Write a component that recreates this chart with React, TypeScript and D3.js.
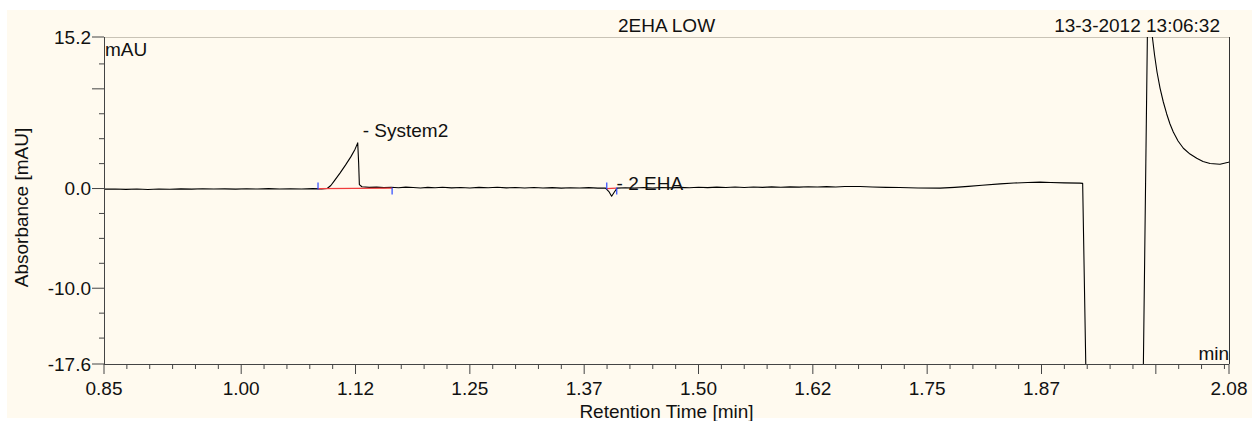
import { useRef, useEffect } from 'react'
import * as d3 from 'd3'

// chromatogram trace: [time (min), absorbance (mAU)]
const TRACE: [number, number][] = [
  [0.850, -0.06], [0.862, -0.04], [0.874, -0.08], [0.886, -0.05], [0.898, -0.09],
  [0.910, -0.04], [0.922, -0.07], [0.934, -0.03], [0.946, -0.06], [0.958, -0.02],
  [0.970, -0.05], [0.982, -0.03], [0.994, -0.06], [1.006, -0.02], [1.018, -0.05],
  [1.030, -0.01], [1.042, -0.05], [1.054, -0.02], [1.066, -0.04], [1.078, -0.01],
  [1.088, -0.03], [1.094, 0.00],
  // System2
  [1.098, 0.30], [1.102, 0.80], [1.108, 1.55], [1.114, 2.35], [1.120, 3.20],
  [1.1245, 3.95], [1.1274, 4.58], [1.1284, 2.60], [1.1292, 0.40], [1.1320, 0.18],
  [1.1400, 0.12], [1.1480, 0.14], [1.1560, 0.09], [1.1640, 0.13], [1.1720, 0.08],
  [1.1800, 0.14], [1.1880, 0.10], [1.1960, 0.06], [1.2040, 0.12], [1.2120, 0.08],
  [1.2200, 0.13], [1.2300, 0.07], [1.2400, 0.11], [1.2500, 0.06], [1.2600, 0.12],
  [1.2700, 0.08], [1.2800, 0.13], [1.2900, 0.07], [1.3000, 0.11], [1.3100, 0.06],
  [1.3200, 0.10], [1.3300, 0.05], [1.3400, 0.09], [1.3500, 0.04], [1.3600, 0.08],
  [1.3700, 0.05], [1.3800, 0.09], [1.3900, 0.04], [1.3980, 0.06],
  // 2 EHA
  [1.4020, -0.30], [1.4050, -0.77], [1.4080, -0.35], [1.4110, 0.04],
  [1.4200, 0.08], [1.4300, 0.05], [1.4400, 0.10], [1.4500, 0.06], [1.4600, 0.11],
  [1.4700, 0.07], [1.4800, 0.12], [1.4900, 0.08], [1.5000, 0.13], [1.5100, 0.09],
  [1.5200, 0.14], [1.5300, 0.10], [1.5400, 0.15], [1.5500, 0.11], [1.5600, 0.16],
  [1.5700, 0.12], [1.5800, 0.17], [1.5900, 0.13], [1.6000, 0.17], [1.6100, 0.14],
  [1.6200, 0.18], [1.6300, 0.15], [1.6400, 0.19], [1.6500, 0.16], [1.6600, 0.20],
  [1.6766, 0.20], [1.6900, 0.16], [1.7050, 0.12], [1.7200, 0.10], [1.7400, 0.06],
  [1.7640, 0.04], [1.7800, 0.12], [1.7950, 0.22], [1.8100, 0.33], [1.8297, 0.47],
  [1.8450, 0.55], [1.8600, 0.60], [1.8734, 0.64], [1.8850, 0.60], [1.9000, 0.57],
  [1.9171, 0.54], [1.9200, 0.52],
  // detector drop / injection spike
  [1.9234, -17.6], [1.9260, -40], [1.9500, -60], [1.9840, -40], [1.9864, -17.6],
  [1.9935, 36], [1.9962, 15.2], [1.9986, 13.39], [2.0013, 11.69], [2.0046, 10.08],
  [2.0082, 8.68], [2.0119, 7.48], [2.0155, 6.47], [2.0191, 5.67], [2.0243, 4.77],
  [2.0301, 4.04], [2.0374, 3.46], [2.0447, 3.03], [2.0516, 2.71], [2.0593, 2.51],
  [2.0702, 2.43], [2.0793, 2.63], [2.0800, 2.66],
]

const PEAK_NAMES = ['System2', '2 EHA']
const PEAK_START = [1.084, 1.3997]
const PEAK_END = [1.165, 1.4106]
const PEAK_APEX_T = [1.1274, 1.405]
const PEAK_APEX_V = [4.58, -0.77]

const X_DOMAIN = [0.85, 2.08]
const Y_DOMAIN = [-17.6, 15.2]
const X_MAJOR = [0.85, 1.0, 1.125, 1.25, 1.375, 1.5, 1.625, 1.75, 1.875, 2.0, 2.08]
const X_LABELS = ['0.85', '1.00', '1.12', '1.25', '1.37', '1.50', '1.62', '1.75', '1.87', '', '2.08']
const Y_MAJOR = [15.2, 10, 0, -10, -17.6]
const Y_LABELS = ['15.2', '', '0.0', '-10.0', '-17.6']
const Y_MINOR = [12.5, 7.5, 5, 2.5, -2.5, -5, -7.5, -12.5, -15]

const TITLE = '2EHA LOW'
const STAMP = '13-3-2012 13:06:32'

export default function App() {
  const svgRef = useRef<SVGSVGElement | null>(null)

  useEffect(() => {
    document.body.style.margin = '0'
    if (!svgRef.current) return
    const svg = d3.select(svgRef.current)
    svg.selectAll('*').remove()

    const W = 1252
    const font = '"Liberation Sans", Arial, sans-serif'
    const fs = '19px'
    const ink = '#111'
    const left = 104, right = 1229, top = 37, bottom = 364

    svg.append('rect').attr('x', 7).attr('y', 10).attr('width', W - 7).attr('height', 408)
      .attr('fill', '#fffaef')

    const x = d3.scaleLinear().domain(X_DOMAIN).range([left, right])
    const y = d3.scaleLinear().domain(Y_DOMAIN).range([bottom, top])

    svg.append('clipPath').attr('id', 'plot-clip')
      .append('rect').attr('x', left).attr('y', top).attr('width', right - left).attr('height', bottom - top)

    // frame
    svg.append('line').attr('x1', left).attr('x2', right).attr('y1', top + 0.5).attr('y2', top + 0.5)
      .attr('stroke', '#c9c3b6').attr('stroke-width', 1)
    svg.append('line').attr('x1', right + 0.5).attr('x2', right + 0.5).attr('y1', top).attr('y2', bottom)
      .attr('stroke', '#333').attr('stroke-width', 1)

    // trace
    const line = d3.line<[number, number]>().x(d => x(d[0])).y(d => y(d[1]))
    svg.append('path').datum(TRACE).attr('d', line).attr('fill', 'none')
      .attr('stroke', '#000').attr('stroke-width', 1.1).attr('stroke-linejoin', 'round')
      .attr('clip-path', 'url(#plot-clip)')

    // peak baselines, delimiters and labels
    PEAK_NAMES.forEach((name, i) => {
      const x1 = x(PEAK_START[i]), x2 = x(PEAK_END[i])
      svg.append('line').attr('x1', x1).attr('x2', x2).attr('y1', y(0)).attr('y2', y(0.04))
        .attr('stroke', '#f03c3c').attr('stroke-width', 1.3)
      svg.append('line').attr('x1', x1).attr('x2', x1).attr('y1', y(0) + 1).attr('y2', y(0) - 6)
        .attr('stroke', '#2a46ff').attr('stroke-width', 1.2)
      svg.append('line').attr('x1', x2).attr('x2', x2).attr('y1', y(0) - 1).attr('y2', y(0) + 6)
        .attr('stroke', '#2a46ff').attr('stroke-width', 1.2)
      svg.append('text').attr('x', x(PEAK_APEX_T[i]) + 5).attr('y', y(PEAK_APEX_V[i]) - 6)
        .attr('font-family', font).attr('font-size', fs).attr('fill', ink).text(`- ${name}`)
    })

    // y axis
    svg.append('line').attr('x1', left + 0.5).attr('x2', left + 0.5).attr('y1', top).attr('y2', bottom)
      .attr('stroke', '#444').attr('stroke-width', 1)
    Y_MAJOR.forEach((v, i) => {
      svg.append('line').attr('x1', left - 12).attr('x2', left).attr('y1', y(v)).attr('y2', y(v))
        .attr('stroke', '#444').attr('stroke-width', 1)
      if (Y_LABELS[i]) {
        svg.append('text').attr('x', left - 13).attr('y', y(v)).attr('dy', '0.36em')
          .attr('text-anchor', 'end').attr('font-family', font).attr('font-size', fs).attr('fill', ink)
          .text(Y_LABELS[i])
      }
    })
    Y_MINOR.forEach(v => {
      svg.append('line').attr('x1', left - 5).attr('x2', left).attr('y1', y(v)).attr('y2', y(v))
        .attr('stroke', '#444').attr('stroke-width', 1)
    })

    // x axis
    svg.append('line').attr('x1', left).attr('x2', right).attr('y1', bottom + 0.5).attr('y2', bottom + 0.5)
      .attr('stroke', '#444').attr('stroke-width', 1)
    const minor = d3.range(0.875, 2.08, 0.025).filter(t => !X_MAJOR.some(m => Math.abs(m - t) < 0.004))
    minor.forEach(t => {
      svg.append('line').attr('x1', x(t)).attr('x2', x(t)).attr('y1', bottom).attr('y2', bottom + 5)
        .attr('stroke', '#444').attr('stroke-width', 1)
    })
    X_MAJOR.forEach((t, i) => {
      svg.append('line').attr('x1', x(t)).attr('x2', x(t)).attr('y1', bottom).attr('y2', bottom + 10)
        .attr('stroke', '#444').attr('stroke-width', 1)
      if (X_LABELS[i]) {
        svg.append('text').attr('x', x(t)).attr('y', bottom + 31)
          .attr('text-anchor', 'middle').attr('font-family', font).attr('font-size', fs).attr('fill', ink)
          .text(X_LABELS[i])
      }
    })

    // unit labels, titles
    svg.append('text').attr('x', left + 1).attr('y', top + 19)
      .attr('font-family', font).attr('font-size', fs).attr('fill', ink).text('mAU')
    svg.append('text').attr('x', right).attr('y', bottom - 4).attr('text-anchor', 'end')
      .attr('font-family', font).attr('font-size', fs).attr('fill', ink).text('min')
    svg.append('text').attr('x', (left + right) / 2).attr('y', 32).attr('text-anchor', 'middle')
      .attr('font-family', font).attr('font-size', fs).attr('fill', ink).text(TITLE)
    svg.append('text').attr('x', 1220).attr('y', 32).attr('text-anchor', 'end')
      .attr('font-family', font).attr('font-size', fs).attr('fill', ink).text(STAMP)
    svg.append('text').attr('x', (left + right) / 2).attr('y', 418).attr('text-anchor', 'middle')
      .attr('font-family', font).attr('font-size', fs).attr('fill', ink).text('Retention Time [min]')
    svg.append('text').attr('transform', `translate(28, ${(125 + 290) / 2}) rotate(-90)`)
      .attr('text-anchor', 'middle').attr('font-family', font).attr('font-size', fs).attr('fill', ink)
      .text('Absorbance [mAU]')
  }, [])

  return <svg ref={svgRef} width={1252} height={421} style={{ display: 'block' }} />
}
